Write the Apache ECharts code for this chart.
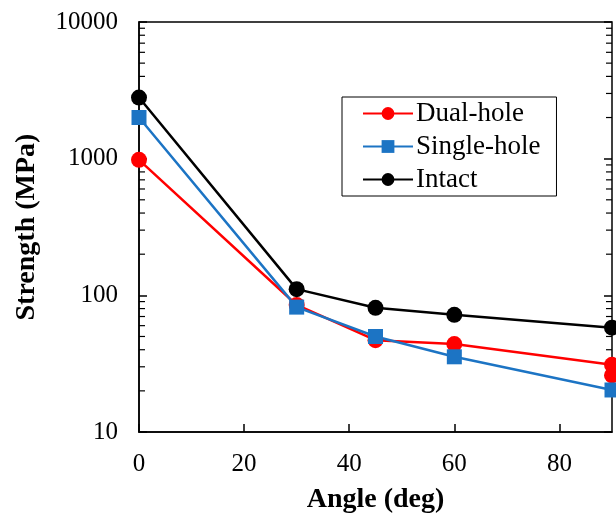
<!DOCTYPE html>
<html><head><meta charset="utf-8">
<script src="https://cdn.jsdelivr.net/npm/echarts@6/dist/echarts.min.js"></script>
<style>html,body{margin:0;padding:0;background:#fff}#c{width:616px;height:515px}</style>
</head><body><div id="c"></div>
<script>
const xTicks = [0, 20, 40, 60, 80];
const dualX = [0, 30, 45, 60, 90, 90];
const dualY = [980, 85, 47, 44, 31, 26];
const singleX = [0, 30, 45, 60, 90];
const singleY = [2000, 82, 50, 35.5, 20.3];
const intactX = [0, 30, 45, 60, 90];
const intactY = [2800, 111, 81, 72, 58];
const minorVals = [];
[10, 100, 1000].forEach(b => { for (let k = 2; k <= 9; k++) minorVals.push(k * b); });

const font = '"Liberation Serif", "Times New Roman", serif';
const pair = (xs, ys) => xs.map((x, i) => [x, ys[i]]);
const chart = echarts.init(document.getElementById('c'));
const mk = (name, color, symbol, xs, ys) => ({
  name, type: 'line', data: pair(xs, ys), symbol, symbolSize: symbol === 'rect' ? 15 : 16,
  lineStyle: { color, width: 2.5 }, itemStyle: { color }, clip: false, z: 3,
  emphasis: { disabled: true }
});
chart.setOption({
  animation: false,
  grid: { left: 139, right: 4, top: 22, bottom: 83, outerBoundsMode: 'none', containLabel: false,
    show: true, borderColor: '#000', borderWidth: 1.5, backgroundColor: 'transparent' },
  legend: {
    data: ['Dual-hole', 'Single-hole', 'Intact'], orient: 'vertical',
    left: 342, top: 97, width: 211, itemWidth: 50, itemHeight: 16, itemGap: 6,
    borderColor: '#000', borderWidth: 1, padding: [3, 16, 3, 20], borderRadius: 0,
    textStyle: { fontFamily: font, fontSize: 27, color: '#000', padding: [0, 0, 0, -2] }
  },
  xAxis: [{
    type: 'value', min: 0, max: 90, interval: 20,
    name: 'Angle (deg)', nameLocation: 'middle', nameGap: 54,
    nameTextStyle: { fontFamily: font, fontSize: 28, fontWeight: 'bold', color: '#000' },
    axisLine: { show: true, lineStyle: { color: '#000', width: 1.5 } },
    axisTick: { show: true, inside: true, length: 8, lineStyle: { color: '#000', width: 1.5 } },
    axisLabel: { fontFamily: font, fontSize: 25, color: '#000', margin: 20, showMaxLabel: false },
    splitLine: { show: false }
  }],
  yAxis: [{
    type: 'log', logBase: 10, min: 10, max: 10000,
    name: 'Strength (MPa)', nameLocation: 'middle', nameGap: 98, nameRotate: 90,
    nameTextStyle: { fontFamily: font, fontSize: 28, fontWeight: 'bold', color: '#000' },
    axisLine: { show: true, lineStyle: { color: '#000', width: 1.5 } },
    axisTick: { show: true, inside: true, length: 8, lineStyle: { color: '#000', width: 1.5 } },
    axisLabel: { fontFamily: font, fontSize: 25, color: '#000', margin: 21, formatter: v => String(Math.round(v)) },
    splitLine: { show: false }
  }, {
    type: 'log', logBase: 10, min: 10, max: 10000, position: 'right',
    axisLine: { show: false },
    axisTick: { show: true, inside: true, length: 8, lineStyle: { color: '#000', width: 1.5 } },
    axisLabel: { show: false }, splitLine: { show: false }
  }],
  series: [
    {
      type: 'custom', name: 'minor', silent: true, clip: false, z: 1,
      data: minorVals.map(v => [0, v]),
      renderItem: (params, api) => {
        const v = api.value(1);
        const l = api.coord([0, v]);
        const r = api.coord([90, v]);
        const st = { stroke: '#000', lineWidth: 1.2 };
        return { type: 'group', children: [
          { type: 'line', shape: { x1: l[0], y1: l[1], x2: l[0] + 6, y2: l[1] }, style: st },
          { type: 'line', shape: { x1: r[0] - 6, y1: r[1], x2: r[0], y2: r[1] }, style: st }
        ] };
      }
    },
    mk('Dual-hole', '#ff0000', 'circle', dualX, dualY),
    mk('Single-hole', '#1c74c4', 'rect', singleX, singleY),
    mk('Intact', '#000000', 'circle', intactX, intactY)
  ]
});
</script></body></html>
